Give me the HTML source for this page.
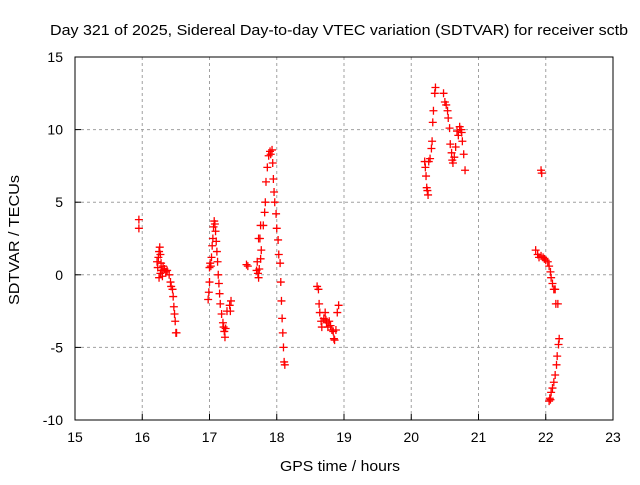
<!DOCTYPE html>
<html><head><meta charset="utf-8"><style>
body{margin:0;background:#fff;}
svg text{font-family:"Liberation Sans",sans-serif;font-size:14px;fill:#000;}
</style></head><body>
<svg id="chart" width="640" height="480">
<text x="339" y="35" text-anchor="middle" textLength="578" lengthAdjust="spacingAndGlyphs" style="font-size:15px">Day 321 of 2025, Sidereal Day-to-day VTEC variation (SDTVAR) for receiver sctb</text>
<text x="340" y="471" text-anchor="middle" textLength="120" lengthAdjust="spacingAndGlyphs" style="font-size:15px">GPS time / hours</text>
<text transform="translate(19,240) rotate(-90)" text-anchor="middle" textLength="130" lengthAdjust="spacingAndGlyphs" style="font-size:15px">SDTVAR / TECUs</text>
<g id="grid"></g><g id="pts"></g>
<rect x="75" y="57" width="538" height="363" fill="none" stroke="#000" stroke-width="1"/>
</svg>
<script>
const xTicks=[15,16,17,18,19,20,21,22,23];
const yTicks=[-10,-5,0,5,10,15];
const times=[15.95,15.95,16.22,16.23,16.24,16.25,16.26,16.27,16.28,16.29,16.3,16.31,16.33,16.35,16.37,16.4,16.42,16.43,16.45,16.46,16.47,16.48,16.49,16.5,16.51,16.25,16.27,
16.98,16.99,17,17,17.01,17.02,17.03,17.04,17.05,17.06,17.07,17.08,17.09,17.1,17.11,17.12,17.13,17.14,17.15,17.16,17.18,17.2,17.21,17.22,17.23,17.24,17.26,17.3,17.32,17.31,
17.55,17.57,17.7,17.71,17.72,17.73,17.74,17.76,17.77,17.75,17.73,17.76,17.8,17.82,17.83,17.84,17.86,17.88,17.9,17.91,17.93,17.94,17.95,17.96,17.97,17.99,18,18.02,18.03,18.05,18.06,18.07,18.08,18.09,18.1,18.11,18.12,
18.6,18.62,18.63,18.64,18.66,18.67,18.7,18.72,18.74,18.76,18.78,18.8,18.82,18.85,18.86,18.88,18.9,18.92,18.73,18.84,
20.2,20.21,20.22,20.23,20.24,20.25,20.26,20.28,20.3,20.31,20.32,20.33,20.35,20.36,
20.48,20.5,20.52,20.54,20.55,20.57,20.58,20.6,20.61,20.62,20.64,20.66,20.7,20.72,20.74,20.75,20.76,20.78,20.8,20.68,
21.93,21.94,21.85,21.88,21.9,21.93,21.96,21.98,22,22.03,22.05,22.07,22.08,22.1,22.12,22.14,22.15,22.18,22.2,22.19,22.17,22.16,22.14,22.12,22.1,22.08,22.06,22.05,22.07];
const values=[3.8,3.2,0.9,0.5,1.2,1.6,1.9,1.4,0.8,0.3,-0.1,0.6,0.4,0.2,0.3,0,-0.5,-0.8,-1,-1.5,-2.2,-2.7,-3.2,-4,-4,-0.2,0.1,
-1.7,-1.2,-0.5,0.5,0.8,0.6,1.2,2,2.5,3.3,3.7,3.5,3,2.3,1.6,0.9,0,-0.6,-1.3,-2,-2.7,-3.3,-3.6,-3.9,-4.3,-3.7,-2.5,-2.1,-1.8,-2.5,
0.7,0.6,0.3,0.9,0.1,-0.2,0.4,1.1,1.7,2.5,2.5,3.4,3.4,4.3,5,6.4,7.4,8.2,8.5,8.3,8.6,7.7,6.6,5.7,5,4.2,3.2,2.4,1.4,0.8,-0.5,-1.8,-3,-4,-5,-6,-6.2,
-0.8,-1,-2,-2.6,-3.2,-3.6,-3,-2.6,-3.3,-3.6,-3.2,-3.5,-3.8,-4.4,-4.5,-3.8,-2.6,-2.1,-3.1,-3.9,
7.8,7.4,6.8,6,5.8,5.5,7.8,8,8.7,9.2,10.5,11.3,12.5,12.9,
12.5,11.9,11.7,11.3,10.8,10.1,9,8.4,7.9,7.7,8.1,8.8,9.6,10.2,10,9.8,9.2,8.3,7.2,9.9,
7.2,7,1.7,1.4,1.2,1.3,1.2,1.1,1,0.9,0.6,0.2,-0.2,-0.6,-1,-1,-2,-2,-4.4,-4.8,-5.6,-6.2,-6.9,-7.4,-7.8,-8.1,-8.5,-8.7,-8.6];
const X0=75,X1=613,Y0=420,Y1=57;
function xs(t){return X0+(t-15)/8*(X1-X0);}
function ys(v){return Y0-(v+10)/25*(Y0-Y1);}
const NS="http://www.w3.org/2000/svg";
const g=document.getElementById('grid'),p=document.getElementById('pts'),svg=document.getElementById('chart');
function mk(tag,at,par){const e=document.createElementNS(NS,tag);for(const k in at)e.setAttribute(k,at[k]);par.appendChild(e);return e;}
xTicks.forEach(t=>{const x=xs(t);
 if(t>15&&t<23){const l=mk('line',{x1:x,x2:x,y1:Y1,y2:Y0,stroke:'#a0a0a0','stroke-dasharray':'3,3'},g);
 
 }
 const tk=mk('line',{x1:x,x2:x,y1:Y0,y2:Y0-6,stroke:'#000'},g);
 
 
 const tx=mk('text',{x:x,y:Y0+22,'text-anchor':'middle'},svg);tx.textContent=t;
 
 });
yTicks.forEach(v=>{const y=ys(v);
 if(v>-10&&v<15){const l=mk('line',{x1:X0,x2:X1,y1:y,y2:y,stroke:'#a0a0a0','stroke-dasharray':'3,3'},g);
 
 }
 const tk=mk('line',{x1:X0,x2:X0+6,y1:y,y2:y,stroke:'#000'},g);
 
 
 const tx=mk('text',{x:63,y:y+5,'text-anchor':'end'},svg);tx.textContent=v;
 
 });
times.forEach((t,i)=>{const x=xs(t),y=ys(values[i]);
 const m=mk('path',{d:`M${x-4},${y}H${x+4}M${x},${y-4}V${y+4}`,stroke:'#ff0000','stroke-width':1.3,fill:'none'},p);
 
 });
</script>
</body></html>
